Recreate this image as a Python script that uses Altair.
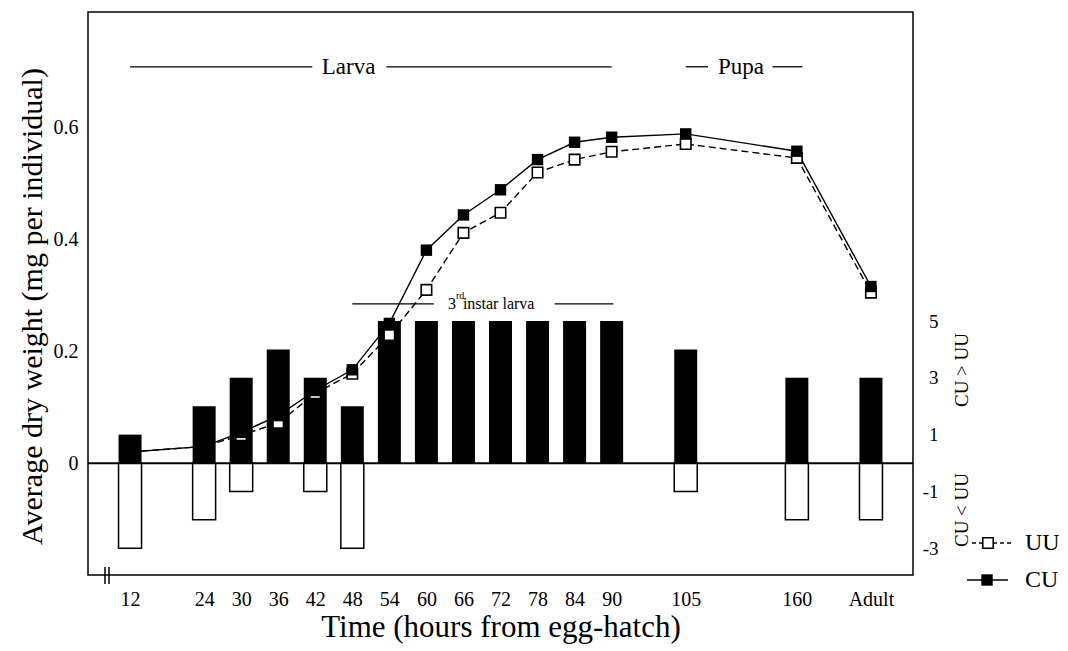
import altair as alt
import pandas as pd

# ---- data ----
time_labels = ["12", "24", "30", "36", "42", "48", "54", "60", "66", "72",
               "78", "84", "90", "105", "160", "Adult"]
# place of each sampling time on the (broken, non-linear) time axis, in 6-h steps
time_slots = [0, 2, 3, 4, 5, 6, 7, 8, 9, 10, 11, 12, 13, 15, 18, 20]

cu_weight = [0.020, 0.030, 0.055, 0.085, 0.130, 0.167, 0.250, 0.381, 0.444,
             0.489, 0.543, 0.574, 0.583, 0.589, 0.558, 0.316]
uu_weight = [0.020, 0.030, 0.050, 0.072, 0.125, 0.160, 0.229, 0.310, 0.412,
             0.448, 0.520, 0.543, 0.557, 0.571, 0.546, 0.305]

cu_gt_uu = [1, 2, 3, 4, 3, 2, 5, 5, 5, 5, 5, 5, 5, 4, 3, 3]
cu_lt_uu = [-3, -2, -1, 0, -1, -3, 0, 0, 0, 0, 0, 0, 0, -1, -2, -2]

left_ticks = [0, 0.2, 0.4, 0.6]
right_ticks = [5, 3, 1, -1, -3]

df = pd.DataFrame({
    "slot": time_slots, "time": time_labels,
    "cu": cu_weight, "uu": uu_weight,
    "pos": cu_gt_uu, "neg": cu_lt_uu,
})
neg_df = df[df["neg"] < 0]

# phase annotations (start/end slot, label)
phase_lines = pd.DataFrame({
    "x0": [0, 6.92, 15.0, 17.34, 6.0, 11.46],
    "x1": [4.92, 13.0, 15.6, 18.15, 8.2, 13.05],
    "y": [0.709, 0.709, 0.709, 0.709, 0.285, 0.285],
})
phase_text = pd.DataFrame({"x": [5.9, 16.49], "y": [0.709, 0.709], "t": ["Larva", "Pupa"]})

FONT = "Liberation Serif"

label_expr = " : ".join(
    f"datum.value == {s} ? '{t}'" for s, t in zip(time_slots, time_labels)
) + " : ''"

x_scale = alt.Scale(domain=[-1, 21], nice=False, zero=False)
x_axis = alt.Axis(values=time_slots, labelExpr=label_expr, ticks=False, tickSize=0,
                  domain=False, grid=False, labelFontSize=20, labelFont=FONT,
                  labelPadding=14, labelColor="black", title="Time (hours from egg-hatch)",
                  titleFont=FONT, titleFontSize=31, titleFontWeight="normal",
                  titleColor="black", titlePadding=3, labelFlush=False, labelOverlap=False)

yl_scale = alt.Scale(domain=[-0.2, 0.807], nice=False, zero=False)
yl_axis = alt.Axis(values=left_ticks, format="~g", ticks=False, tickSize=0, domain=False,
                   grid=False, labelFontSize=20, labelFont=FONT, labelPadding=10,
                   labelColor="black",
                   title="Average dry weight (mg per individual)", titleFont=FONT,
                   titleFontSize=30, titleFontWeight="normal", titleColor="black",
                   titlePadding=6, titleY=294)

yr_axis_expr = "datum.value < 0 ? '-' + abs(datum.value) : '' + datum.value"
yr_scale = alt.Scale(domain=[-3.947, 15.894], nice=False, zero=False)
yr_axis = alt.Axis(orient="right", values=right_ticks, labelExpr=yr_axis_expr, ticks=False,
                   tickSize=0, domain=False, grid=False, labelFontSize=19, labelFont=FONT,
                   labelAlign="right", labelPadding=25, labelColor="black", title=None)

X = lambda f: alt.X(f, type="quantitative", scale=x_scale, axis=x_axis)
YL = lambda f: alt.Y(f, type="quantitative", scale=yl_scale, axis=yl_axis)
YR = lambda f: alt.Y(f, type="quantitative", scale=yr_scale, axis=yr_axis)

bars_pos = alt.Chart(df).mark_bar(size=23, color="black").encode(
    x=X("slot"), y=YR("pos"), y2=alt.datum(0))
bars_neg = alt.Chart(neg_df).mark_bar(size=23, fill="white", stroke="black",
                                      strokeWidth=1.5).encode(
    x=X("slot"), y=YR("neg"), y2=alt.datum(0))
right_group = alt.layer(bars_pos, bars_neg)

zero_line = alt.Chart(df.head(1)).mark_rule(color="black", strokeWidth=2).encode(
    y=YL("z"), ).transform_calculate(z="0")

uu_line = alt.Chart(df).mark_line(color="black", strokeWidth=1.4, strokeDash=[7, 4]).encode(
    x=X("slot"), y=YL("uu"))
cu_line = alt.Chart(df).mark_line(color="black", strokeWidth=1.4).encode(
    x=X("slot"), y=YL("cu"))
uu_pts = alt.Chart(df).mark_point(shape="square", size=110, filled=True, fill="white",
                                  stroke="black", strokeWidth=1.6, opacity=1).encode(
    x=X("slot"), y=YL("uu"))
cu_pts = alt.Chart(df).mark_point(shape="square", size=130, filled=True, color="black",
                                  opacity=1).encode(
    x=X("slot"), y=YL("cu"))

ph_rules = alt.Chart(phase_lines).mark_rule(color="black", strokeWidth=1.3).encode(
    x=X("x0"), x2="x1", y=YL("y"))
ph_text = alt.Chart(phase_text).mark_text(font=FONT, fontSize=23, color="black",
                                          baseline="middle").encode(
    x=X("x"), y=YL("y"), text="t:N")

instar = pd.DataFrame({"x": [8.58], "y": [0.276]})
instar_3 = alt.Chart(instar).mark_text(font=FONT, fontSize=16, color="black", align="left",
                                       baseline="alphabetic", text="3").encode(
    x=X("x"), y=YL("y"))
instar_rd = alt.Chart(instar).mark_text(font=FONT, fontSize=10, color="black", align="left",
                                        baseline="alphabetic", text="rd", dx=8, dy=-10).encode(
    x=X("x"), y=YL("y"))
instar_txt = alt.Chart(instar).mark_text(font=FONT, fontSize=16, color="black", align="left",
                                         baseline="alphabetic", text="instar larva",
                                         dx=15).encode(
    x=X("x"), y=YL("y"))

one = pd.DataFrame({"k": [0]})
# axis break marks on the time axis
brk = alt.layer(*[
    alt.Chart(one).mark_rule(color="black", strokeWidth=1.5).encode(
        x=alt.value(xv), y=alt.value(555), y2=alt.value(572))
    for xv in (17, 21)
])
# right-axis side titles
side = alt.layer(
    alt.Chart(one).mark_text(font=FONT, fontSize=19, angle=270, color="black",
                             text="CU > UU").encode(x=alt.value(874), y=alt.value(358)),
    alt.Chart(one).mark_text(font=FONT, fontSize=19, angle=270, color="black",
                             text="CU < UU").encode(x=alt.value(874), y=alt.value(498)),
)
# legend
legend = alt.layer(
    alt.Chart(one).mark_rule(color="black", strokeWidth=1.3, strokeDash=[4, 3]).encode(
        x=alt.value(884), x2=alt.value(925), y=alt.value(531)),
    alt.Chart(one).mark_point(shape="square", size=110, filled=True, fill="white",
                              stroke="black", strokeWidth=1.6, opacity=1).encode(
        x=alt.value(900), y=alt.value(531)),
    alt.Chart(one).mark_text(font=FONT, fontSize=24, align="left", baseline="middle",
                             color="black", text="UU").encode(
        x=alt.value(937), y=alt.value(531)),
    alt.Chart(one).mark_rule(color="black", strokeWidth=1.3).encode(
        x=alt.value(879), x2=alt.value(920), y=alt.value(568)),
    alt.Chart(one).mark_point(shape="square", size=130, filled=True, color="black",
                              opacity=1).encode(x=alt.value(899), y=alt.value(568)),
    alt.Chart(one).mark_text(font=FONT, fontSize=24, align="left", baseline="middle",
                             color="black", text="CU").encode(
        x=alt.value(937), y=alt.value(568)),
)

left_group = alt.layer(zero_line, ph_rules, ph_text, instar_3, instar_rd, instar_txt,
                       uu_line, cu_line, uu_pts, cu_pts)

chart = alt.layer(right_group, left_group, brk, side, legend).resolve_scale(
    y="independent"
).properties(
    width=825, height=563,
    padding={"left": 88, "top": 12, "right": 155, "bottom": 76},
    autosize=alt.AutoSizeParams(type="none"),
    background="white",
).configure_view(stroke="black", strokeWidth=1.5)

chart.save("out.html", embed_options={"renderer": "svg", "actions": False})
